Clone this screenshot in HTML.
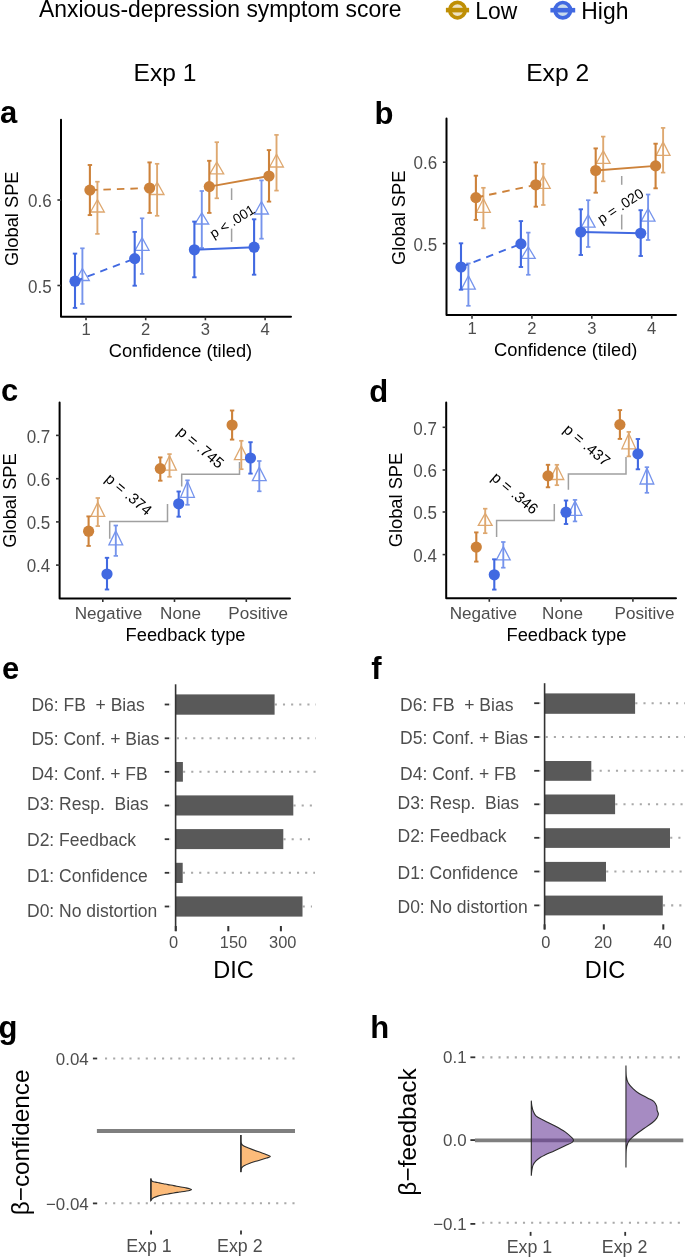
<!DOCTYPE html>
<html><head><meta charset="utf-8"><style>
html,body{margin:0;padding:0;background:#fff;overflow:hidden;width:685px;height:1258px;}
svg{display:block;font-family:"Liberation Sans", sans-serif;will-change:transform;}
</style></head><body>
<svg width="685" height="1258" viewBox="0 0 685 1258">
<rect width="685" height="1258" fill="#fff"/>
<text font-size="22.9" fill="#000" text-anchor="start" font-weight="normal" transform="translate(39.00 17.10) scale(1 1.05)">Anxious-depression symptom score</text>
<circle cx="457.5" cy="10.1" r="7.7" fill="rgb(238,226,194)" stroke="rgb(191,143,5)" stroke-width="3.7"/>
<line x1="445.90" y1="10.10" x2="469.10" y2="10.10" stroke="rgb(191,143,5)" stroke-width="4.6"/>
<text font-size="22.9" fill="#000" text-anchor="start" font-weight="normal" transform="translate(475.30 19.00) scale(1 1.05)">Low</text>
<circle cx="562.8" cy="10.2" r="7.7" fill="rgb(200,218,236)" stroke="rgb(65,105,225)" stroke-width="3.7"/>
<line x1="550.40" y1="10.20" x2="575.20" y2="10.20" stroke="rgb(65,105,225)" stroke-width="4.6"/>
<text font-size="22.9" fill="#000" text-anchor="start" font-weight="normal" transform="translate(581.30 19.00) scale(1 1.05)">High</text>
<text x="133.60" y="80.70" font-size="24.6" fill="#000" text-anchor="start" font-weight="normal">Exp 1</text>
<text x="526.20" y="80.70" font-size="24.6" fill="#000" text-anchor="start" font-weight="normal">Exp 2</text>
<text x="0.10" y="122.80" font-size="31" fill="#000" text-anchor="start" font-weight="bold">a</text>
<polyline points="61.0,119.8 61.0,316.7 291,316.7" fill="none" stroke="#000" stroke-width="2.0" stroke-linecap="round" stroke-linejoin="round"/>
<line x1="86.00" y1="316.70" x2="86.00" y2="320.30" stroke="#333" stroke-width="1.6"/>
<line x1="145.70" y1="316.70" x2="145.70" y2="320.30" stroke="#333" stroke-width="1.6"/>
<line x1="205.40" y1="316.70" x2="205.40" y2="320.30" stroke="#333" stroke-width="1.6"/>
<line x1="265.10" y1="316.70" x2="265.10" y2="320.30" stroke="#333" stroke-width="1.6"/>
<line x1="57.40" y1="285.50" x2="61.00" y2="285.50" stroke="#333" stroke-width="1.6"/>
<text font-size="17.0" fill="#4d4d4d" text-anchor="end" font-weight="normal" transform="translate(51.70 292.70) scale(1 1.05)">0.5</text>
<line x1="57.40" y1="200.00" x2="61.00" y2="200.00" stroke="#333" stroke-width="1.6"/>
<text font-size="17.0" fill="#4d4d4d" text-anchor="end" font-weight="normal" transform="translate(51.70 207.20) scale(1 1.05)">0.6</text>
<text x="86.00" y="335.30" font-size="16.6" fill="#4d4d4d" text-anchor="middle" font-weight="normal">1</text>
<text x="145.70" y="335.30" font-size="16.6" fill="#4d4d4d" text-anchor="middle" font-weight="normal">2</text>
<text x="205.40" y="335.30" font-size="16.6" fill="#4d4d4d" text-anchor="middle" font-weight="normal">3</text>
<text x="265.10" y="335.30" font-size="16.6" fill="#4d4d4d" text-anchor="middle" font-weight="normal">4</text>
<text x="180.50" y="357.20" font-size="18.3" fill="#000" text-anchor="middle" font-weight="normal">Confidence (tiled)</text>
<text font-size="18.3" fill="#000" text-anchor="middle" font-weight="normal" transform="translate(18.40 218.70) rotate(-90)">Global SPE</text>
<line x1="82.40" y1="248.30" x2="82.40" y2="303.90" stroke="rgb(118,148,236)" stroke-width="1.9"/>
<line x1="80.20" y1="248.30" x2="84.60" y2="248.30" stroke="rgb(118,148,236)" stroke-width="1.71"/>
<line x1="80.20" y1="303.90" x2="84.60" y2="303.90" stroke="rgb(118,148,236)" stroke-width="1.71"/>
<polygon points="82.40,268.50 75.50,280.50 89.30,280.50" fill="none" stroke="rgb(118,148,236)" stroke-width="1.3" stroke-linejoin="miter"/>
<line x1="142.10" y1="218.30" x2="142.10" y2="273.90" stroke="rgb(118,148,236)" stroke-width="1.9"/>
<line x1="139.90" y1="218.30" x2="144.30" y2="218.30" stroke="rgb(118,148,236)" stroke-width="1.71"/>
<line x1="139.90" y1="273.90" x2="144.30" y2="273.90" stroke="rgb(118,148,236)" stroke-width="1.71"/>
<polygon points="142.10,237.60 135.20,250.30 149.00,250.30" fill="none" stroke="rgb(118,148,236)" stroke-width="1.3" stroke-linejoin="miter"/>
<line x1="201.80" y1="191.00" x2="201.80" y2="248.00" stroke="rgb(118,148,236)" stroke-width="1.9"/>
<line x1="199.60" y1="191.00" x2="204.00" y2="191.00" stroke="rgb(118,148,236)" stroke-width="1.71"/>
<line x1="199.60" y1="248.00" x2="204.00" y2="248.00" stroke="rgb(118,148,236)" stroke-width="1.71"/>
<polygon points="201.80,212.80 194.90,224.00 208.70,224.00" fill="none" stroke="rgb(118,148,236)" stroke-width="1.3" stroke-linejoin="miter"/>
<line x1="261.50" y1="180.40" x2="261.50" y2="238.70" stroke="rgb(118,148,236)" stroke-width="1.9"/>
<line x1="259.30" y1="180.40" x2="263.70" y2="180.40" stroke="rgb(118,148,236)" stroke-width="1.71"/>
<line x1="259.30" y1="238.70" x2="263.70" y2="238.70" stroke="rgb(118,148,236)" stroke-width="1.71"/>
<polygon points="261.50,201.50 254.60,214.00 268.40,214.00" fill="none" stroke="rgb(118,148,236)" stroke-width="1.3" stroke-linejoin="miter"/>
<line x1="75.00" y1="253.60" x2="75.00" y2="307.90" stroke="rgb(65,105,225)" stroke-width="2.1"/>
<line x1="72.80" y1="253.60" x2="77.20" y2="253.60" stroke="rgb(65,105,225)" stroke-width="1.8900000000000001"/>
<line x1="72.80" y1="307.90" x2="77.20" y2="307.90" stroke="rgb(65,105,225)" stroke-width="1.8900000000000001"/>
<line x1="134.70" y1="231.90" x2="134.70" y2="285.70" stroke="rgb(65,105,225)" stroke-width="2.1"/>
<line x1="132.50" y1="231.90" x2="136.90" y2="231.90" stroke="rgb(65,105,225)" stroke-width="1.8900000000000001"/>
<line x1="132.50" y1="285.70" x2="136.90" y2="285.70" stroke="rgb(65,105,225)" stroke-width="1.8900000000000001"/>
<line x1="194.40" y1="221.60" x2="194.40" y2="277.30" stroke="rgb(65,105,225)" stroke-width="2.1"/>
<line x1="192.20" y1="221.60" x2="196.60" y2="221.60" stroke="rgb(65,105,225)" stroke-width="1.8900000000000001"/>
<line x1="192.20" y1="277.30" x2="196.60" y2="277.30" stroke="rgb(65,105,225)" stroke-width="1.8900000000000001"/>
<line x1="254.10" y1="219.30" x2="254.10" y2="274.70" stroke="rgb(65,105,225)" stroke-width="2.1"/>
<line x1="251.90" y1="219.30" x2="256.30" y2="219.30" stroke="rgb(65,105,225)" stroke-width="1.8900000000000001"/>
<line x1="251.90" y1="274.70" x2="256.30" y2="274.70" stroke="rgb(65,105,225)" stroke-width="1.8900000000000001"/>
<line x1="75.00" y1="281.20" x2="134.70" y2="258.60" stroke="rgb(65,105,225)" stroke-width="1.9" stroke-dasharray="7.5,6"/>
<line x1="194.40" y1="249.80" x2="254.10" y2="247.20" stroke="rgb(65,105,225)" stroke-width="1.9"/>
<circle cx="75.00" cy="281.20" r="5.6" fill="rgb(65,105,225)"/>
<circle cx="134.70" cy="258.60" r="5.6" fill="rgb(65,105,225)"/>
<circle cx="194.40" cy="249.80" r="5.6" fill="rgb(65,105,225)"/>
<circle cx="254.10" cy="247.20" r="5.6" fill="rgb(65,105,225)"/>
<line x1="97.40" y1="181.70" x2="97.40" y2="233.90" stroke="rgb(222,168,112)" stroke-width="1.9"/>
<line x1="95.20" y1="181.70" x2="99.60" y2="181.70" stroke="rgb(222,168,112)" stroke-width="1.71"/>
<line x1="95.20" y1="233.90" x2="99.60" y2="233.90" stroke="rgb(222,168,112)" stroke-width="1.71"/>
<polygon points="97.40,199.70 90.50,212.00 104.30,212.00" fill="none" stroke="rgb(222,168,112)" stroke-width="1.3" stroke-linejoin="miter"/>
<line x1="157.10" y1="163.80" x2="157.10" y2="215.80" stroke="rgb(222,168,112)" stroke-width="1.9"/>
<line x1="154.90" y1="163.80" x2="159.30" y2="163.80" stroke="rgb(222,168,112)" stroke-width="1.71"/>
<line x1="154.90" y1="215.80" x2="159.30" y2="215.80" stroke="rgb(222,168,112)" stroke-width="1.71"/>
<polygon points="157.10,182.20 150.20,194.50 164.00,194.50" fill="none" stroke="rgb(222,168,112)" stroke-width="1.3" stroke-linejoin="miter"/>
<line x1="216.80" y1="142.20" x2="216.80" y2="198.30" stroke="rgb(222,168,112)" stroke-width="1.9"/>
<line x1="214.60" y1="142.20" x2="219.00" y2="142.20" stroke="rgb(222,168,112)" stroke-width="1.71"/>
<line x1="214.60" y1="198.30" x2="219.00" y2="198.30" stroke="rgb(222,168,112)" stroke-width="1.71"/>
<polygon points="216.80,162.00 209.90,173.80 223.70,173.80" fill="none" stroke="rgb(222,168,112)" stroke-width="1.3" stroke-linejoin="miter"/>
<line x1="276.50" y1="134.90" x2="276.50" y2="190.60" stroke="rgb(222,168,112)" stroke-width="1.9"/>
<line x1="274.30" y1="134.90" x2="278.70" y2="134.90" stroke="rgb(222,168,112)" stroke-width="1.71"/>
<line x1="274.30" y1="190.60" x2="278.70" y2="190.60" stroke="rgb(222,168,112)" stroke-width="1.71"/>
<polygon points="276.50,154.20 269.60,167.00 283.40,167.00" fill="none" stroke="rgb(222,168,112)" stroke-width="1.3" stroke-linejoin="miter"/>
<line x1="89.90" y1="165.00" x2="89.90" y2="215.10" stroke="rgb(205,130,58)" stroke-width="2.1"/>
<line x1="87.70" y1="165.00" x2="92.10" y2="165.00" stroke="rgb(205,130,58)" stroke-width="1.8900000000000001"/>
<line x1="87.70" y1="215.10" x2="92.10" y2="215.10" stroke="rgb(205,130,58)" stroke-width="1.8900000000000001"/>
<line x1="149.60" y1="162.40" x2="149.60" y2="212.90" stroke="rgb(205,130,58)" stroke-width="2.1"/>
<line x1="147.40" y1="162.40" x2="151.80" y2="162.40" stroke="rgb(205,130,58)" stroke-width="1.8900000000000001"/>
<line x1="147.40" y1="212.90" x2="151.80" y2="212.90" stroke="rgb(205,130,58)" stroke-width="1.8900000000000001"/>
<line x1="209.30" y1="160.80" x2="209.30" y2="212.90" stroke="rgb(205,130,58)" stroke-width="2.1"/>
<line x1="207.10" y1="160.80" x2="211.50" y2="160.80" stroke="rgb(205,130,58)" stroke-width="1.8900000000000001"/>
<line x1="207.10" y1="212.90" x2="211.50" y2="212.90" stroke="rgb(205,130,58)" stroke-width="1.8900000000000001"/>
<line x1="269.00" y1="150.10" x2="269.00" y2="201.60" stroke="rgb(205,130,58)" stroke-width="2.1"/>
<line x1="266.80" y1="150.10" x2="271.20" y2="150.10" stroke="rgb(205,130,58)" stroke-width="1.8900000000000001"/>
<line x1="266.80" y1="201.60" x2="271.20" y2="201.60" stroke="rgb(205,130,58)" stroke-width="1.8900000000000001"/>
<line x1="89.90" y1="190.10" x2="149.60" y2="188.00" stroke="rgb(205,130,58)" stroke-width="1.9" stroke-dasharray="7.5,6"/>
<line x1="209.30" y1="186.60" x2="269.00" y2="176.00" stroke="rgb(205,130,58)" stroke-width="1.9"/>
<circle cx="89.90" cy="190.10" r="5.6" fill="rgb(205,130,58)"/>
<circle cx="149.60" cy="188.00" r="5.6" fill="rgb(205,130,58)"/>
<circle cx="209.30" cy="186.60" r="5.6" fill="rgb(205,130,58)"/>
<circle cx="269.00" cy="176.00" r="5.6" fill="rgb(205,130,58)"/>
<line x1="231.60" y1="188.30" x2="231.60" y2="200.00" stroke="#a0a0a0" stroke-width="1.5"/>
<line x1="231.60" y1="228.60" x2="231.60" y2="241.90" stroke="#a0a0a0" stroke-width="1.5"/>
<text font-size="13.8" fill="#000" text-anchor="middle" font-weight="normal" transform="translate(234.80 225.50) rotate(-32)">p &lt; .001</text>
<text x="374.50" y="123.60" font-size="31" fill="#000" text-anchor="start" font-weight="bold">b</text>
<polyline points="446.5,118.4 446.5,315.1 676,315.1" fill="none" stroke="#000" stroke-width="2.0" stroke-linecap="round" stroke-linejoin="round"/>
<line x1="472.00" y1="315.10" x2="472.00" y2="318.70" stroke="#333" stroke-width="1.6"/>
<line x1="531.90" y1="315.10" x2="531.90" y2="318.70" stroke="#333" stroke-width="1.6"/>
<line x1="591.80" y1="315.10" x2="591.80" y2="318.70" stroke="#333" stroke-width="1.6"/>
<line x1="651.70" y1="315.10" x2="651.70" y2="318.70" stroke="#333" stroke-width="1.6"/>
<line x1="442.90" y1="243.60" x2="446.50" y2="243.60" stroke="#333" stroke-width="1.6"/>
<text font-size="17.0" fill="#4d4d4d" text-anchor="end" font-weight="normal" transform="translate(437.20 250.80) scale(1 1.05)">0.5</text>
<line x1="442.90" y1="162.20" x2="446.50" y2="162.20" stroke="#333" stroke-width="1.6"/>
<text font-size="17.0" fill="#4d4d4d" text-anchor="end" font-weight="normal" transform="translate(437.20 169.40) scale(1 1.05)">0.6</text>
<text x="472.00" y="333.70" font-size="16.6" fill="#4d4d4d" text-anchor="middle" font-weight="normal">1</text>
<text x="531.90" y="333.70" font-size="16.6" fill="#4d4d4d" text-anchor="middle" font-weight="normal">2</text>
<text x="591.80" y="333.70" font-size="16.6" fill="#4d4d4d" text-anchor="middle" font-weight="normal">3</text>
<text x="651.70" y="333.70" font-size="16.6" fill="#4d4d4d" text-anchor="middle" font-weight="normal">4</text>
<text x="565.75" y="355.60" font-size="18.3" fill="#000" text-anchor="middle" font-weight="normal">Confidence (tiled)</text>
<text font-size="18.3" fill="#000" text-anchor="middle" font-weight="normal" transform="translate(404.50 217.80) rotate(-90)">Global SPE</text>
<line x1="468.40" y1="263.40" x2="468.40" y2="305.80" stroke="rgb(118,148,236)" stroke-width="1.9"/>
<line x1="466.20" y1="263.40" x2="470.60" y2="263.40" stroke="rgb(118,148,236)" stroke-width="1.71"/>
<line x1="466.20" y1="305.80" x2="470.60" y2="305.80" stroke="rgb(118,148,236)" stroke-width="1.71"/>
<polygon points="468.40,275.70 461.50,289.20 475.30,289.20" fill="none" stroke="rgb(118,148,236)" stroke-width="1.3" stroke-linejoin="miter"/>
<line x1="528.30" y1="232.60" x2="528.30" y2="274.80" stroke="rgb(118,148,236)" stroke-width="1.9"/>
<line x1="526.10" y1="232.60" x2="530.50" y2="232.60" stroke="rgb(118,148,236)" stroke-width="1.71"/>
<line x1="526.10" y1="274.80" x2="530.50" y2="274.80" stroke="rgb(118,148,236)" stroke-width="1.71"/>
<polygon points="528.30,246.90 521.40,258.30 535.20,258.30" fill="none" stroke="rgb(118,148,236)" stroke-width="1.3" stroke-linejoin="miter"/>
<line x1="588.20" y1="200.20" x2="588.20" y2="247.00" stroke="rgb(118,148,236)" stroke-width="1.9"/>
<line x1="586.00" y1="200.20" x2="590.40" y2="200.20" stroke="rgb(118,148,236)" stroke-width="1.71"/>
<line x1="586.00" y1="247.00" x2="590.40" y2="247.00" stroke="rgb(118,148,236)" stroke-width="1.71"/>
<polygon points="588.20,214.60 581.30,227.20 595.10,227.20" fill="none" stroke="rgb(118,148,236)" stroke-width="1.3" stroke-linejoin="miter"/>
<line x1="648.10" y1="194.50" x2="648.10" y2="240.00" stroke="rgb(118,148,236)" stroke-width="1.9"/>
<line x1="645.90" y1="194.50" x2="650.30" y2="194.50" stroke="rgb(118,148,236)" stroke-width="1.71"/>
<line x1="645.90" y1="240.00" x2="650.30" y2="240.00" stroke="rgb(118,148,236)" stroke-width="1.71"/>
<polygon points="648.10,208.50 641.20,221.10 655.00,221.10" fill="none" stroke="rgb(118,148,236)" stroke-width="1.3" stroke-linejoin="miter"/>
<line x1="461.00" y1="243.30" x2="461.00" y2="289.70" stroke="rgb(65,105,225)" stroke-width="2.1"/>
<line x1="458.80" y1="243.30" x2="463.20" y2="243.30" stroke="rgb(65,105,225)" stroke-width="1.8900000000000001"/>
<line x1="458.80" y1="289.70" x2="463.20" y2="289.70" stroke="rgb(65,105,225)" stroke-width="1.8900000000000001"/>
<line x1="520.90" y1="221.10" x2="520.90" y2="267.00" stroke="rgb(65,105,225)" stroke-width="2.1"/>
<line x1="518.70" y1="221.10" x2="523.10" y2="221.10" stroke="rgb(65,105,225)" stroke-width="1.8900000000000001"/>
<line x1="518.70" y1="267.00" x2="523.10" y2="267.00" stroke="rgb(65,105,225)" stroke-width="1.8900000000000001"/>
<line x1="580.80" y1="209.30" x2="580.80" y2="255.00" stroke="rgb(65,105,225)" stroke-width="2.1"/>
<line x1="578.60" y1="209.30" x2="583.00" y2="209.30" stroke="rgb(65,105,225)" stroke-width="1.8900000000000001"/>
<line x1="578.60" y1="255.00" x2="583.00" y2="255.00" stroke="rgb(65,105,225)" stroke-width="1.8900000000000001"/>
<line x1="640.70" y1="210.20" x2="640.70" y2="256.00" stroke="rgb(65,105,225)" stroke-width="2.1"/>
<line x1="638.50" y1="210.20" x2="642.90" y2="210.20" stroke="rgb(65,105,225)" stroke-width="1.8900000000000001"/>
<line x1="638.50" y1="256.00" x2="642.90" y2="256.00" stroke="rgb(65,105,225)" stroke-width="1.8900000000000001"/>
<line x1="461.00" y1="267.00" x2="520.90" y2="243.90" stroke="rgb(65,105,225)" stroke-width="1.9" stroke-dasharray="7.5,6"/>
<line x1="580.80" y1="232.00" x2="640.70" y2="233.30" stroke="rgb(65,105,225)" stroke-width="1.9"/>
<circle cx="461.00" cy="267.00" r="5.6" fill="rgb(65,105,225)"/>
<circle cx="520.90" cy="243.90" r="5.6" fill="rgb(65,105,225)"/>
<circle cx="580.80" cy="232.00" r="5.6" fill="rgb(65,105,225)"/>
<circle cx="640.70" cy="233.30" r="5.6" fill="rgb(65,105,225)"/>
<line x1="483.40" y1="187.80" x2="483.40" y2="228.30" stroke="rgb(222,168,112)" stroke-width="1.9"/>
<line x1="481.20" y1="187.80" x2="485.60" y2="187.80" stroke="rgb(222,168,112)" stroke-width="1.71"/>
<line x1="481.20" y1="228.30" x2="485.60" y2="228.30" stroke="rgb(222,168,112)" stroke-width="1.71"/>
<polygon points="483.40,198.80 476.50,212.30 490.30,212.30" fill="none" stroke="rgb(222,168,112)" stroke-width="1.3" stroke-linejoin="miter"/>
<line x1="543.30" y1="163.80" x2="543.30" y2="205.00" stroke="rgb(222,168,112)" stroke-width="1.9"/>
<line x1="541.10" y1="163.80" x2="545.50" y2="163.80" stroke="rgb(222,168,112)" stroke-width="1.71"/>
<line x1="541.10" y1="205.00" x2="545.50" y2="205.00" stroke="rgb(222,168,112)" stroke-width="1.71"/>
<polygon points="543.30,175.70 536.40,188.30 550.20,188.30" fill="none" stroke="rgb(222,168,112)" stroke-width="1.3" stroke-linejoin="miter"/>
<line x1="603.20" y1="136.60" x2="603.20" y2="181.30" stroke="rgb(222,168,112)" stroke-width="1.9"/>
<line x1="601.00" y1="136.60" x2="605.40" y2="136.60" stroke="rgb(222,168,112)" stroke-width="1.71"/>
<line x1="601.00" y1="181.30" x2="605.40" y2="181.30" stroke="rgb(222,168,112)" stroke-width="1.71"/>
<polygon points="603.20,150.70 596.30,163.40 610.10,163.40" fill="none" stroke="rgb(222,168,112)" stroke-width="1.3" stroke-linejoin="miter"/>
<line x1="663.10" y1="127.90" x2="663.10" y2="172.60" stroke="rgb(222,168,112)" stroke-width="1.9"/>
<line x1="660.90" y1="127.90" x2="665.30" y2="127.90" stroke="rgb(222,168,112)" stroke-width="1.71"/>
<line x1="660.90" y1="172.60" x2="665.30" y2="172.60" stroke="rgb(222,168,112)" stroke-width="1.71"/>
<polygon points="663.10,141.90 656.20,155.40 670.00,155.40" fill="none" stroke="rgb(222,168,112)" stroke-width="1.3" stroke-linejoin="miter"/>
<line x1="475.90" y1="175.70" x2="475.90" y2="219.90" stroke="rgb(205,130,58)" stroke-width="2.1"/>
<line x1="473.70" y1="175.70" x2="478.10" y2="175.70" stroke="rgb(205,130,58)" stroke-width="1.8900000000000001"/>
<line x1="473.70" y1="219.90" x2="478.10" y2="219.90" stroke="rgb(205,130,58)" stroke-width="1.8900000000000001"/>
<line x1="535.80" y1="162.40" x2="535.80" y2="206.70" stroke="rgb(205,130,58)" stroke-width="2.1"/>
<line x1="533.60" y1="162.40" x2="538.00" y2="162.40" stroke="rgb(205,130,58)" stroke-width="1.8900000000000001"/>
<line x1="533.60" y1="206.70" x2="538.00" y2="206.70" stroke="rgb(205,130,58)" stroke-width="1.8900000000000001"/>
<line x1="595.70" y1="148.40" x2="595.70" y2="192.70" stroke="rgb(205,130,58)" stroke-width="2.1"/>
<line x1="593.50" y1="148.40" x2="597.90" y2="148.40" stroke="rgb(205,130,58)" stroke-width="1.8900000000000001"/>
<line x1="593.50" y1="192.70" x2="597.90" y2="192.70" stroke="rgb(205,130,58)" stroke-width="1.8900000000000001"/>
<line x1="655.60" y1="143.70" x2="655.60" y2="188.30" stroke="rgb(205,130,58)" stroke-width="2.1"/>
<line x1="653.40" y1="143.70" x2="657.80" y2="143.70" stroke="rgb(205,130,58)" stroke-width="1.8900000000000001"/>
<line x1="653.40" y1="188.30" x2="657.80" y2="188.30" stroke="rgb(205,130,58)" stroke-width="1.8900000000000001"/>
<line x1="475.90" y1="197.60" x2="535.80" y2="184.80" stroke="rgb(205,130,58)" stroke-width="1.9" stroke-dasharray="7.5,6"/>
<line x1="595.70" y1="170.50" x2="655.60" y2="165.90" stroke="rgb(205,130,58)" stroke-width="1.9"/>
<circle cx="475.90" cy="197.60" r="5.6" fill="rgb(205,130,58)"/>
<circle cx="535.80" cy="184.80" r="5.6" fill="rgb(205,130,58)"/>
<circle cx="595.70" cy="170.50" r="5.6" fill="rgb(205,130,58)"/>
<circle cx="655.60" cy="165.90" r="5.6" fill="rgb(205,130,58)"/>
<line x1="621.70" y1="176.00" x2="621.70" y2="184.80" stroke="#a0a0a0" stroke-width="1.5"/>
<line x1="621.70" y1="214.60" x2="621.70" y2="229.50" stroke="#a0a0a0" stroke-width="1.5"/>
<text font-size="14.2" fill="#000" text-anchor="middle" font-weight="normal" transform="translate(623.20 210.00) rotate(-33.4)">p = .020</text>
<text x="0.90" y="400.60" font-size="31" fill="#000" text-anchor="start" font-weight="bold">c</text>
<polyline points="59.6,402.4 59.6,598.4 290,598.4" fill="none" stroke="#000" stroke-width="2.0" stroke-linecap="round" stroke-linejoin="round"/>
<line x1="102.80" y1="598.40" x2="102.80" y2="602.00" stroke="#333" stroke-width="1.6"/>
<line x1="174.50" y1="598.40" x2="174.50" y2="602.00" stroke="#333" stroke-width="1.6"/>
<line x1="246.30" y1="598.40" x2="246.30" y2="602.00" stroke="#333" stroke-width="1.6"/>
<line x1="56.00" y1="565.10" x2="59.60" y2="565.10" stroke="#333" stroke-width="1.6"/>
<text font-size="17.0" fill="#4d4d4d" text-anchor="end" font-weight="normal" transform="translate(50.30 572.30) scale(1 1.05)">0.4</text>
<line x1="56.00" y1="521.90" x2="59.60" y2="521.90" stroke="#333" stroke-width="1.6"/>
<text font-size="17.0" fill="#4d4d4d" text-anchor="end" font-weight="normal" transform="translate(50.30 529.10) scale(1 1.05)">0.5</text>
<line x1="56.00" y1="478.70" x2="59.60" y2="478.70" stroke="#333" stroke-width="1.6"/>
<text font-size="17.0" fill="#4d4d4d" text-anchor="end" font-weight="normal" transform="translate(50.30 485.90) scale(1 1.05)">0.6</text>
<line x1="56.00" y1="435.40" x2="59.60" y2="435.40" stroke="#333" stroke-width="1.6"/>
<text font-size="17.0" fill="#4d4d4d" text-anchor="end" font-weight="normal" transform="translate(50.30 442.60) scale(1 1.05)">0.7</text>
<text x="108.50" y="619.20" font-size="17.1" fill="#4d4d4d" text-anchor="middle" font-weight="normal">Negative</text>
<text x="180.50" y="619.20" font-size="17.1" fill="#4d4d4d" text-anchor="middle" font-weight="normal">None</text>
<text x="258.20" y="619.20" font-size="17.1" fill="#4d4d4d" text-anchor="middle" font-weight="normal">Positive</text>
<text x="125.60" y="641.40" font-size="18.3" fill="#000" text-anchor="start" font-weight="normal">Feedback type</text>
<text font-size="18.3" fill="#000" text-anchor="middle" font-weight="normal" transform="translate(16.40 500.50) rotate(-90)">Global SPE</text>
<polyline points="109.7,538.8 109.7,521.6 167.5,521.6 167.5,504.0" fill="none" stroke="#a0a0a0" stroke-width="1.5"/>
<polyline points="181.7,486.4 181.7,474.2 239.5,474.2 239.5,461.9" fill="none" stroke="#a0a0a0" stroke-width="1.5"/>
<text font-size="15.2" fill="#000" text-anchor="middle" font-weight="normal" transform="translate(125.40 498.20) rotate(40.5)">p = .374</text>
<text font-size="15.2" fill="#000" text-anchor="middle" font-weight="normal" transform="translate(197.40 451.20) rotate(40.5)">p = .745</text>
<line x1="97.80" y1="498.00" x2="97.80" y2="526.10" stroke="rgb(222,168,112)" stroke-width="1.9"/>
<line x1="95.60" y1="498.00" x2="100.00" y2="498.00" stroke="rgb(222,168,112)" stroke-width="1.71"/>
<line x1="95.60" y1="526.10" x2="100.00" y2="526.10" stroke="rgb(222,168,112)" stroke-width="1.71"/>
<polygon points="97.80,502.40 90.90,516.40 104.70,516.40" fill="none" stroke="rgb(222,168,112)" stroke-width="1.3" stroke-linejoin="miter"/>
<line x1="169.50" y1="454.10" x2="169.50" y2="476.80" stroke="rgb(222,168,112)" stroke-width="1.9"/>
<line x1="167.30" y1="454.10" x2="171.70" y2="454.10" stroke="rgb(222,168,112)" stroke-width="1.71"/>
<line x1="167.30" y1="476.80" x2="171.70" y2="476.80" stroke="rgb(222,168,112)" stroke-width="1.71"/>
<polygon points="169.50,455.80 162.60,470.10 176.40,470.10" fill="none" stroke="rgb(222,168,112)" stroke-width="1.3" stroke-linejoin="miter"/>
<line x1="241.30" y1="440.80" x2="241.30" y2="469.20" stroke="rgb(222,168,112)" stroke-width="1.9"/>
<line x1="239.10" y1="440.80" x2="243.50" y2="440.80" stroke="rgb(222,168,112)" stroke-width="1.71"/>
<line x1="239.10" y1="469.20" x2="243.50" y2="469.20" stroke="rgb(222,168,112)" stroke-width="1.71"/>
<polygon points="241.30,446.00 234.40,459.60 248.20,459.60" fill="none" stroke="rgb(222,168,112)" stroke-width="1.3" stroke-linejoin="miter"/>
<line x1="88.60" y1="516.40" x2="88.60" y2="545.90" stroke="rgb(205,130,58)" stroke-width="2.1"/>
<line x1="86.40" y1="516.40" x2="90.80" y2="516.40" stroke="rgb(205,130,58)" stroke-width="1.8900000000000001"/>
<line x1="86.40" y1="545.90" x2="90.80" y2="545.90" stroke="rgb(205,130,58)" stroke-width="1.8900000000000001"/>
<circle cx="88.60" cy="531.20" r="5.6" fill="rgb(205,130,58)"/>
<line x1="160.30" y1="457.40" x2="160.30" y2="480.70" stroke="rgb(205,130,58)" stroke-width="2.1"/>
<line x1="158.10" y1="457.40" x2="162.50" y2="457.40" stroke="rgb(205,130,58)" stroke-width="1.8900000000000001"/>
<line x1="158.10" y1="480.70" x2="162.50" y2="480.70" stroke="rgb(205,130,58)" stroke-width="1.8900000000000001"/>
<circle cx="160.30" cy="468.60" r="5.6" fill="rgb(205,130,58)"/>
<line x1="232.10" y1="410.50" x2="232.10" y2="439.60" stroke="rgb(205,130,58)" stroke-width="2.1"/>
<line x1="229.90" y1="410.50" x2="234.30" y2="410.50" stroke="rgb(205,130,58)" stroke-width="1.8900000000000001"/>
<line x1="229.90" y1="439.60" x2="234.30" y2="439.60" stroke="rgb(205,130,58)" stroke-width="1.8900000000000001"/>
<circle cx="232.10" cy="425.00" r="5.6" fill="rgb(205,130,58)"/>
<line x1="115.80" y1="525.50" x2="115.80" y2="555.90" stroke="rgb(118,148,236)" stroke-width="1.9"/>
<line x1="113.60" y1="525.50" x2="118.00" y2="525.50" stroke="rgb(118,148,236)" stroke-width="1.71"/>
<line x1="113.60" y1="555.90" x2="118.00" y2="555.90" stroke="rgb(118,148,236)" stroke-width="1.71"/>
<polygon points="115.80,530.90 108.90,544.90 122.70,544.90" fill="none" stroke="rgb(118,148,236)" stroke-width="1.3" stroke-linejoin="miter"/>
<line x1="187.50" y1="480.30" x2="187.50" y2="504.80" stroke="rgb(118,148,236)" stroke-width="1.9"/>
<line x1="185.30" y1="480.30" x2="189.70" y2="480.30" stroke="rgb(118,148,236)" stroke-width="1.71"/>
<line x1="185.30" y1="504.80" x2="189.70" y2="504.80" stroke="rgb(118,148,236)" stroke-width="1.71"/>
<polygon points="187.50,481.30 180.60,497.30 194.40,497.30" fill="none" stroke="rgb(118,148,236)" stroke-width="1.3" stroke-linejoin="miter"/>
<line x1="259.30" y1="461.00" x2="259.30" y2="491.30" stroke="rgb(118,148,236)" stroke-width="1.9"/>
<line x1="257.10" y1="461.00" x2="261.50" y2="461.00" stroke="rgb(118,148,236)" stroke-width="1.71"/>
<line x1="257.10" y1="491.30" x2="261.50" y2="491.30" stroke="rgb(118,148,236)" stroke-width="1.71"/>
<polygon points="259.30,467.10 252.40,480.70 266.20,480.70" fill="none" stroke="rgb(118,148,236)" stroke-width="1.3" stroke-linejoin="miter"/>
<line x1="107.00" y1="557.80" x2="107.00" y2="589.50" stroke="rgb(65,105,225)" stroke-width="2.1"/>
<line x1="104.80" y1="557.80" x2="109.20" y2="557.80" stroke="rgb(65,105,225)" stroke-width="1.8900000000000001"/>
<line x1="104.80" y1="589.50" x2="109.20" y2="589.50" stroke="rgb(65,105,225)" stroke-width="1.8900000000000001"/>
<circle cx="107.00" cy="574.00" r="5.6" fill="rgb(65,105,225)"/>
<line x1="178.70" y1="491.50" x2="178.70" y2="516.70" stroke="rgb(65,105,225)" stroke-width="2.1"/>
<line x1="176.50" y1="491.50" x2="180.90" y2="491.50" stroke="rgb(65,105,225)" stroke-width="1.8900000000000001"/>
<line x1="176.50" y1="516.70" x2="180.90" y2="516.70" stroke="rgb(65,105,225)" stroke-width="1.8900000000000001"/>
<circle cx="178.70" cy="503.80" r="5.6" fill="rgb(65,105,225)"/>
<line x1="250.50" y1="442.20" x2="250.50" y2="473.60" stroke="rgb(65,105,225)" stroke-width="2.1"/>
<line x1="248.30" y1="442.20" x2="252.70" y2="442.20" stroke="rgb(65,105,225)" stroke-width="1.8900000000000001"/>
<line x1="248.30" y1="473.60" x2="252.70" y2="473.60" stroke="rgb(65,105,225)" stroke-width="1.8900000000000001"/>
<circle cx="250.50" cy="458.00" r="5.6" fill="rgb(65,105,225)"/>
<text x="369.20" y="401.50" font-size="31" fill="#000" text-anchor="start" font-weight="bold">d</text>
<polyline points="446.2,402.4 446.2,598.2 676,598.2" fill="none" stroke="#000" stroke-width="2.0" stroke-linecap="round" stroke-linejoin="round"/>
<line x1="489.30" y1="598.20" x2="489.30" y2="601.80" stroke="#333" stroke-width="1.6"/>
<line x1="561.00" y1="598.20" x2="561.00" y2="601.80" stroke="#333" stroke-width="1.6"/>
<line x1="632.90" y1="598.20" x2="632.90" y2="601.80" stroke="#333" stroke-width="1.6"/>
<line x1="442.60" y1="554.60" x2="446.20" y2="554.60" stroke="#333" stroke-width="1.6"/>
<text font-size="17.0" fill="#4d4d4d" text-anchor="end" font-weight="normal" transform="translate(436.90 561.80) scale(1 1.05)">0.4</text>
<line x1="442.60" y1="512.00" x2="446.20" y2="512.00" stroke="#333" stroke-width="1.6"/>
<text font-size="17.0" fill="#4d4d4d" text-anchor="end" font-weight="normal" transform="translate(436.90 519.20) scale(1 1.05)">0.5</text>
<line x1="442.60" y1="470.00" x2="446.20" y2="470.00" stroke="#333" stroke-width="1.6"/>
<text font-size="17.0" fill="#4d4d4d" text-anchor="end" font-weight="normal" transform="translate(436.90 477.20) scale(1 1.05)">0.6</text>
<line x1="442.60" y1="427.30" x2="446.20" y2="427.30" stroke="#333" stroke-width="1.6"/>
<text font-size="17.0" fill="#4d4d4d" text-anchor="end" font-weight="normal" transform="translate(436.90 434.50) scale(1 1.05)">0.7</text>
<text x="483.40" y="619.00" font-size="17.1" fill="#4d4d4d" text-anchor="middle" font-weight="normal">Negative</text>
<text x="562.50" y="619.00" font-size="17.1" fill="#4d4d4d" text-anchor="middle" font-weight="normal">None</text>
<text x="644.50" y="619.00" font-size="17.1" fill="#4d4d4d" text-anchor="middle" font-weight="normal">Positive</text>
<text x="506.50" y="641.20" font-size="18.3" fill="#000" text-anchor="start" font-weight="normal">Feedback type</text>
<text font-size="18.3" fill="#000" text-anchor="middle" font-weight="normal" transform="translate(401.80 500.00) rotate(-90)">Global SPE</text>
<polyline points="496.6,537.1 496.6,520.4 554.3,520.4 554.3,504.0" fill="none" stroke="#a0a0a0" stroke-width="1.5"/>
<polyline points="568.4,489.7 568.4,474.0 626.0,474.0 626.0,457.0" fill="none" stroke="#a0a0a0" stroke-width="1.5"/>
<text font-size="15.2" fill="#000" text-anchor="middle" font-weight="normal" transform="translate(511.60 497.00) rotate(40.5)">p = .346</text>
<text font-size="15.2" fill="#000" text-anchor="middle" font-weight="normal" transform="translate(583.60 449.00) rotate(40.5)">p = .437</text>
<line x1="485.20" y1="508.70" x2="485.20" y2="533.20" stroke="rgb(222,168,112)" stroke-width="1.9"/>
<line x1="483.00" y1="508.70" x2="487.40" y2="508.70" stroke="rgb(222,168,112)" stroke-width="1.71"/>
<line x1="483.00" y1="533.20" x2="487.40" y2="533.20" stroke="rgb(222,168,112)" stroke-width="1.71"/>
<polygon points="485.20,513.40 478.30,525.30 492.10,525.30" fill="none" stroke="rgb(222,168,112)" stroke-width="1.3" stroke-linejoin="miter"/>
<line x1="556.90" y1="464.80" x2="556.90" y2="485.20" stroke="rgb(222,168,112)" stroke-width="1.9"/>
<line x1="554.70" y1="464.80" x2="559.10" y2="464.80" stroke="rgb(222,168,112)" stroke-width="1.71"/>
<line x1="554.70" y1="485.20" x2="559.10" y2="485.20" stroke="rgb(222,168,112)" stroke-width="1.71"/>
<polygon points="556.90,465.60 550.00,479.50 563.80,479.50" fill="none" stroke="rgb(222,168,112)" stroke-width="1.3" stroke-linejoin="miter"/>
<line x1="628.80" y1="431.90" x2="628.80" y2="456.40" stroke="rgb(222,168,112)" stroke-width="1.9"/>
<line x1="626.60" y1="431.90" x2="631.00" y2="431.90" stroke="rgb(222,168,112)" stroke-width="1.71"/>
<line x1="626.60" y1="456.40" x2="631.00" y2="456.40" stroke="rgb(222,168,112)" stroke-width="1.71"/>
<polygon points="628.80,433.50 621.90,448.80 635.70,448.80" fill="none" stroke="rgb(222,168,112)" stroke-width="1.3" stroke-linejoin="miter"/>
<line x1="476.30" y1="532.40" x2="476.30" y2="561.60" stroke="rgb(205,130,58)" stroke-width="2.1"/>
<line x1="474.10" y1="532.40" x2="478.50" y2="532.40" stroke="rgb(205,130,58)" stroke-width="1.8900000000000001"/>
<line x1="474.10" y1="561.60" x2="478.50" y2="561.60" stroke="rgb(205,130,58)" stroke-width="1.8900000000000001"/>
<circle cx="476.30" cy="547.10" r="5.6" fill="rgb(205,130,58)"/>
<line x1="548.00" y1="464.80" x2="548.00" y2="487.30" stroke="rgb(205,130,58)" stroke-width="2.1"/>
<line x1="545.80" y1="464.80" x2="550.20" y2="464.80" stroke="rgb(205,130,58)" stroke-width="1.8900000000000001"/>
<line x1="545.80" y1="487.30" x2="550.20" y2="487.30" stroke="rgb(205,130,58)" stroke-width="1.8900000000000001"/>
<circle cx="548.00" cy="475.90" r="5.6" fill="rgb(205,130,58)"/>
<line x1="619.90" y1="410.10" x2="619.90" y2="438.90" stroke="rgb(205,130,58)" stroke-width="2.1"/>
<line x1="617.70" y1="410.10" x2="622.10" y2="410.10" stroke="rgb(205,130,58)" stroke-width="1.8900000000000001"/>
<line x1="617.70" y1="438.90" x2="622.10" y2="438.90" stroke="rgb(205,130,58)" stroke-width="1.8900000000000001"/>
<circle cx="619.90" cy="424.60" r="5.6" fill="rgb(205,130,58)"/>
<line x1="503.30" y1="542.00" x2="503.30" y2="567.70" stroke="rgb(118,148,236)" stroke-width="1.9"/>
<line x1="501.10" y1="542.00" x2="505.50" y2="542.00" stroke="rgb(118,148,236)" stroke-width="1.71"/>
<line x1="501.10" y1="567.70" x2="505.50" y2="567.70" stroke="rgb(118,148,236)" stroke-width="1.71"/>
<polygon points="503.30,546.70 496.40,559.90 510.20,559.90" fill="none" stroke="rgb(118,148,236)" stroke-width="1.3" stroke-linejoin="miter"/>
<line x1="575.00" y1="499.90" x2="575.00" y2="521.40" stroke="rgb(118,148,236)" stroke-width="1.9"/>
<line x1="572.80" y1="499.90" x2="577.20" y2="499.90" stroke="rgb(118,148,236)" stroke-width="1.71"/>
<line x1="572.80" y1="521.40" x2="577.20" y2="521.40" stroke="rgb(118,148,236)" stroke-width="1.71"/>
<polygon points="575.00,501.00 568.10,515.30 581.90,515.30" fill="none" stroke="rgb(118,148,236)" stroke-width="1.3" stroke-linejoin="miter"/>
<line x1="646.90" y1="467.20" x2="646.90" y2="492.80" stroke="rgb(118,148,236)" stroke-width="1.9"/>
<line x1="644.70" y1="467.20" x2="649.10" y2="467.20" stroke="rgb(118,148,236)" stroke-width="1.71"/>
<line x1="644.70" y1="492.80" x2="649.10" y2="492.80" stroke="rgb(118,148,236)" stroke-width="1.71"/>
<polygon points="646.90,468.20 640.00,484.00 653.80,484.00" fill="none" stroke="rgb(118,148,236)" stroke-width="1.3" stroke-linejoin="miter"/>
<line x1="494.30" y1="559.30" x2="494.30" y2="589.60" stroke="rgb(65,105,225)" stroke-width="2.1"/>
<line x1="492.10" y1="559.30" x2="496.50" y2="559.30" stroke="rgb(65,105,225)" stroke-width="1.8900000000000001"/>
<line x1="492.10" y1="589.60" x2="496.50" y2="589.60" stroke="rgb(65,105,225)" stroke-width="1.8900000000000001"/>
<circle cx="494.30" cy="574.80" r="5.6" fill="rgb(65,105,225)"/>
<line x1="566.00" y1="500.50" x2="566.00" y2="524.00" stroke="rgb(65,105,225)" stroke-width="2.1"/>
<line x1="563.80" y1="500.50" x2="568.20" y2="500.50" stroke="rgb(65,105,225)" stroke-width="1.8900000000000001"/>
<line x1="563.80" y1="524.00" x2="568.20" y2="524.00" stroke="rgb(65,105,225)" stroke-width="1.8900000000000001"/>
<circle cx="566.00" cy="512.20" r="5.6" fill="rgb(65,105,225)"/>
<line x1="637.90" y1="439.00" x2="637.90" y2="469.30" stroke="rgb(65,105,225)" stroke-width="2.1"/>
<line x1="635.70" y1="439.00" x2="640.10" y2="439.00" stroke="rgb(65,105,225)" stroke-width="1.8900000000000001"/>
<line x1="635.70" y1="469.30" x2="640.10" y2="469.30" stroke="rgb(65,105,225)" stroke-width="1.8900000000000001"/>
<circle cx="637.90" cy="453.90" r="5.6" fill="rgb(65,105,225)"/>
<text x="1.90" y="678.90" font-size="31" fill="#000" text-anchor="start" font-weight="bold">e</text>
<line x1="274.80" y1="704.50" x2="316.00" y2="704.50" stroke="#a9a9a9" stroke-width="2.1" stroke-dasharray="2.1,6.05"/>
<line x1="176.90" y1="738.30" x2="316.00" y2="738.30" stroke="#a9a9a9" stroke-width="2.1" stroke-dasharray="2.1,6.05"/>
<line x1="183.10" y1="771.80" x2="316.00" y2="771.80" stroke="#a9a9a9" stroke-width="2.1" stroke-dasharray="2.1,6.05"/>
<line x1="293.50" y1="805.50" x2="312.00" y2="805.50" stroke="#a9a9a9" stroke-width="2.1" stroke-dasharray="2.1,6.05"/>
<line x1="283.50" y1="839.20" x2="310.00" y2="839.20" stroke="#a9a9a9" stroke-width="2.1" stroke-dasharray="2.1,6.05"/>
<line x1="182.90" y1="872.80" x2="315.00" y2="872.80" stroke="#a9a9a9" stroke-width="2.1" stroke-dasharray="2.1,6.05"/>
<line x1="302.70" y1="906.50" x2="312.00" y2="906.50" stroke="#a9a9a9" stroke-width="2.1" stroke-dasharray="2.1,6.05"/>
<rect x="175.60" y="694.40" width="99.00" height="20.30" fill="#595959"/>
<rect x="175.60" y="762.00" width="7.30" height="19.70" fill="#595959"/>
<rect x="175.60" y="795.40" width="117.70" height="20.10" fill="#595959"/>
<rect x="175.60" y="829.10" width="107.70" height="20.00" fill="#595959"/>
<rect x="175.60" y="862.80" width="7.10" height="20.20" fill="#595959"/>
<rect x="175.60" y="896.40" width="126.90" height="20.20" fill="#595959"/>
<line x1="175.60" y1="684.30" x2="175.60" y2="931.00" stroke="#333" stroke-width="1.6"/>
<line x1="168.60" y1="704.50" x2="170.40" y2="704.50" stroke="#cfcfcf" stroke-width="1.8"/>
<line x1="164.70" y1="704.50" x2="169.00" y2="704.50" stroke="#333" stroke-width="1.8"/>
<line x1="168.60" y1="738.30" x2="170.40" y2="738.30" stroke="#cfcfcf" stroke-width="1.8"/>
<line x1="164.70" y1="738.30" x2="169.00" y2="738.30" stroke="#333" stroke-width="1.8"/>
<line x1="168.60" y1="771.80" x2="170.40" y2="771.80" stroke="#cfcfcf" stroke-width="1.8"/>
<line x1="164.70" y1="771.80" x2="169.00" y2="771.80" stroke="#333" stroke-width="1.8"/>
<line x1="168.60" y1="805.50" x2="170.40" y2="805.50" stroke="#cfcfcf" stroke-width="1.8"/>
<line x1="164.70" y1="805.50" x2="169.00" y2="805.50" stroke="#333" stroke-width="1.8"/>
<line x1="168.60" y1="839.20" x2="170.40" y2="839.20" stroke="#cfcfcf" stroke-width="1.8"/>
<line x1="164.70" y1="839.20" x2="169.00" y2="839.20" stroke="#333" stroke-width="1.8"/>
<line x1="168.60" y1="872.80" x2="170.40" y2="872.80" stroke="#cfcfcf" stroke-width="1.8"/>
<line x1="164.70" y1="872.80" x2="169.00" y2="872.80" stroke="#333" stroke-width="1.8"/>
<line x1="168.60" y1="906.50" x2="170.40" y2="906.50" stroke="#cfcfcf" stroke-width="1.8"/>
<line x1="164.70" y1="906.50" x2="169.00" y2="906.50" stroke="#333" stroke-width="1.8"/>
<text x="31.40" y="711.20" font-size="17.5" fill="#4d4d4d" text-anchor="start" font-weight="normal">D6: FB&#160;&#160;+ Bias</text>
<text x="31.40" y="744.60" font-size="17.5" fill="#4d4d4d" text-anchor="start" font-weight="normal">D5: Conf. + Bias</text>
<text x="31.40" y="779.50" font-size="17.5" fill="#4d4d4d" text-anchor="start" font-weight="normal">D4: Conf. + FB</text>
<text x="27.00" y="810.20" font-size="17.5" fill="#4d4d4d" text-anchor="start" font-weight="normal">D3: Resp.&#160;&#160;Bias</text>
<text x="27.00" y="845.70" font-size="17.5" fill="#4d4d4d" text-anchor="start" font-weight="normal">D2: Feedback</text>
<text x="27.00" y="881.70" font-size="17.5" fill="#4d4d4d" text-anchor="start" font-weight="normal">D1: Confidence</text>
<text x="27.00" y="916.60" font-size="17.5" fill="#4d4d4d" text-anchor="start" font-weight="normal">D0: No distortion</text>
<line x1="175.80" y1="926.00" x2="175.80" y2="931.30" stroke="#333" stroke-width="2.0"/>
<line x1="228.30" y1="926.00" x2="228.30" y2="931.30" stroke="#333" stroke-width="2.0"/>
<line x1="280.90" y1="926.00" x2="280.90" y2="931.30" stroke="#333" stroke-width="2.0"/>
<text x="173.50" y="947.70" font-size="16.4" fill="#4d4d4d" text-anchor="middle" font-weight="normal">0</text>
<text x="233.50" y="947.70" font-size="16.4" fill="#4d4d4d" text-anchor="middle" font-weight="normal">150</text>
<text x="282.80" y="947.70" font-size="16.4" fill="#4d4d4d" text-anchor="middle" font-weight="normal">300</text>
<text x="213.30" y="978.20" font-size="23.5" fill="#000" text-anchor="start" font-weight="normal">DIC</text>
<text x="371.20" y="678.90" font-size="31" fill="#000" text-anchor="start" font-weight="bold">f</text>
<line x1="635.30" y1="703.20" x2="685.00" y2="703.20" stroke="#a9a9a9" stroke-width="2.1" stroke-dasharray="2.1,6.05"/>
<line x1="545.70" y1="737.00" x2="685.00" y2="737.00" stroke="#a9a9a9" stroke-width="2.1" stroke-dasharray="2.1,6.05"/>
<line x1="591.50" y1="770.80" x2="685.00" y2="770.80" stroke="#a9a9a9" stroke-width="2.1" stroke-dasharray="2.1,6.05"/>
<line x1="615.30" y1="804.30" x2="685.00" y2="804.30" stroke="#a9a9a9" stroke-width="2.1" stroke-dasharray="2.1,6.05"/>
<line x1="670.20" y1="837.80" x2="685.00" y2="837.80" stroke="#a9a9a9" stroke-width="2.1" stroke-dasharray="2.1,6.05"/>
<line x1="606.20" y1="871.50" x2="685.00" y2="871.50" stroke="#a9a9a9" stroke-width="2.1" stroke-dasharray="2.1,6.05"/>
<line x1="663.00" y1="905.40" x2="685.00" y2="905.40" stroke="#a9a9a9" stroke-width="2.1" stroke-dasharray="2.1,6.05"/>
<rect x="544.60" y="693.40" width="90.50" height="20.40" fill="#595959"/>
<rect x="544.60" y="761.00" width="46.70" height="19.80" fill="#595959"/>
<rect x="544.60" y="794.50" width="70.50" height="19.70" fill="#595959"/>
<rect x="544.60" y="828.20" width="125.40" height="19.70" fill="#595959"/>
<rect x="544.60" y="861.90" width="61.40" height="19.70" fill="#595959"/>
<rect x="544.60" y="895.60" width="118.20" height="19.80" fill="#595959"/>
<line x1="544.60" y1="683.20" x2="544.60" y2="929.30" stroke="#333" stroke-width="1.6"/>
<line x1="538.90" y1="703.20" x2="540.70" y2="703.20" stroke="#cfcfcf" stroke-width="1.8"/>
<line x1="534.20" y1="703.20" x2="539.30" y2="703.20" stroke="#333" stroke-width="1.8"/>
<line x1="538.90" y1="737.00" x2="540.70" y2="737.00" stroke="#cfcfcf" stroke-width="1.8"/>
<line x1="534.20" y1="737.00" x2="539.30" y2="737.00" stroke="#333" stroke-width="1.8"/>
<line x1="538.90" y1="770.80" x2="540.70" y2="770.80" stroke="#cfcfcf" stroke-width="1.8"/>
<line x1="534.20" y1="770.80" x2="539.30" y2="770.80" stroke="#333" stroke-width="1.8"/>
<line x1="538.90" y1="804.30" x2="540.70" y2="804.30" stroke="#cfcfcf" stroke-width="1.8"/>
<line x1="534.20" y1="804.30" x2="539.30" y2="804.30" stroke="#333" stroke-width="1.8"/>
<line x1="538.90" y1="837.80" x2="540.70" y2="837.80" stroke="#cfcfcf" stroke-width="1.8"/>
<line x1="534.20" y1="837.80" x2="539.30" y2="837.80" stroke="#333" stroke-width="1.8"/>
<line x1="538.90" y1="871.50" x2="540.70" y2="871.50" stroke="#cfcfcf" stroke-width="1.8"/>
<line x1="534.20" y1="871.50" x2="539.30" y2="871.50" stroke="#333" stroke-width="1.8"/>
<line x1="538.90" y1="905.40" x2="540.70" y2="905.40" stroke="#cfcfcf" stroke-width="1.8"/>
<line x1="534.20" y1="905.40" x2="539.30" y2="905.40" stroke="#333" stroke-width="1.8"/>
<text x="400.10" y="711.20" font-size="17.5" fill="#4d4d4d" text-anchor="start" font-weight="normal">D6: FB&#160;&#160;+ Bias</text>
<text x="400.10" y="744.10" font-size="17.5" fill="#4d4d4d" text-anchor="start" font-weight="normal">D5: Conf. + Bias</text>
<text x="400.10" y="779.50" font-size="17.5" fill="#4d4d4d" text-anchor="start" font-weight="normal">D4: Conf. + FB</text>
<text x="397.50" y="808.90" font-size="17.5" fill="#4d4d4d" text-anchor="start" font-weight="normal">D3: Resp.&#160;&#160;Bias</text>
<text x="397.50" y="841.70" font-size="17.5" fill="#4d4d4d" text-anchor="start" font-weight="normal">D2: Feedback</text>
<text x="397.50" y="878.50" font-size="17.5" fill="#4d4d4d" text-anchor="start" font-weight="normal">D1: Confidence</text>
<text x="397.50" y="913.20" font-size="17.5" fill="#4d4d4d" text-anchor="start" font-weight="normal">D0: No distortion</text>
<line x1="544.60" y1="924.30" x2="544.60" y2="929.60" stroke="#333" stroke-width="2.0"/>
<line x1="603.80" y1="924.30" x2="603.80" y2="929.60" stroke="#333" stroke-width="2.0"/>
<line x1="663.30" y1="924.30" x2="663.30" y2="929.60" stroke="#333" stroke-width="2.0"/>
<text x="545.70" y="947.70" font-size="16.4" fill="#4d4d4d" text-anchor="middle" font-weight="normal">0</text>
<text x="603.10" y="947.70" font-size="16.4" fill="#4d4d4d" text-anchor="middle" font-weight="normal">20</text>
<text x="662.70" y="947.70" font-size="16.4" fill="#4d4d4d" text-anchor="middle" font-weight="normal">40</text>
<text x="584.80" y="978.20" font-size="23.5" fill="#000" text-anchor="start" font-weight="normal">DIC</text>
<text x="-1.60" y="1037.60" font-size="31" fill="#000" text-anchor="start" font-weight="bold">g</text>
<text x="370.20" y="1038.00" font-size="31" fill="#000" text-anchor="start" font-weight="bold">h</text>
<line x1="105" y1="1058.5" x2="295" y2="1058.5" stroke="#a9a9a9" stroke-width="2.1" stroke-dasharray="2.1,6.05"/>
<line x1="105" y1="1203.2" x2="295" y2="1203.2" stroke="#a9a9a9" stroke-width="2.1" stroke-dasharray="2.1,6.05"/>
<line x1="92.90" y1="1058.50" x2="97.20" y2="1058.50" stroke="#333" stroke-width="1.8"/>
<line x1="92.90" y1="1203.40" x2="97.20" y2="1203.40" stroke="#333" stroke-width="1.8"/>
<text x="88.70" y="1065.20" font-size="16.9" fill="#4d4d4d" text-anchor="end" font-weight="normal">0.04</text>
<text x="88.70" y="1209.70" font-size="16.9" fill="#4d4d4d" text-anchor="end" font-weight="normal">−0.04</text>
<line x1="96.90" y1="1131.00" x2="295.00" y2="1131.00" stroke="#7f7f7f" stroke-width="3.9"/>
<line x1="151.10" y1="1230.50" x2="151.10" y2="1234.60" stroke="#333" stroke-width="1.8"/>
<line x1="241.00" y1="1230.50" x2="241.00" y2="1234.60" stroke="#333" stroke-width="1.8"/>
<text x="149.00" y="1251.60" font-size="17.8" fill="#4d4d4d" text-anchor="middle" font-weight="normal">Exp 1</text>
<text x="239.80" y="1251.60" font-size="17.8" fill="#4d4d4d" text-anchor="middle" font-weight="normal">Exp 2</text>
<text font-size="24.3" fill="#000" text-anchor="middle" font-weight="normal" transform="translate(28.90 1142.40) rotate(-90)">β−confidence</text>
<line x1="482.2" y1="1057.4" x2="685" y2="1057.4" stroke="#a9a9a9" stroke-width="2.1" stroke-dasharray="2.1,6.05"/>
<line x1="482.2" y1="1222.8" x2="685" y2="1222.8" stroke="#a9a9a9" stroke-width="2.1" stroke-dasharray="2.1,6.05"/>
<line x1="470.40" y1="1057.30" x2="475.30" y2="1057.30" stroke="#333" stroke-width="1.8"/>
<line x1="470.40" y1="1140.10" x2="475.30" y2="1140.10" stroke="#333" stroke-width="1.8"/>
<line x1="470.40" y1="1223.90" x2="475.30" y2="1223.90" stroke="#333" stroke-width="1.8"/>
<text x="466.60" y="1063.20" font-size="16.9" fill="#4d4d4d" text-anchor="end" font-weight="normal">0.1</text>
<text x="466.60" y="1146.40" font-size="16.9" fill="#4d4d4d" text-anchor="end" font-weight="normal">0.0</text>
<text x="466.60" y="1230.10" font-size="16.9" fill="#4d4d4d" text-anchor="end" font-weight="normal">−0.1</text>
<line x1="474.90" y1="1140.40" x2="683.30" y2="1140.40" stroke="#7f7f7f" stroke-width="3.9"/>
<line x1="530.60" y1="1231.90" x2="530.60" y2="1235.80" stroke="#333" stroke-width="1.8"/>
<line x1="625.20" y1="1231.90" x2="625.20" y2="1235.80" stroke="#333" stroke-width="1.8"/>
<text x="529.50" y="1252.90" font-size="17.8" fill="#4d4d4d" text-anchor="middle" font-weight="normal">Exp 1</text>
<text x="624.60" y="1252.90" font-size="17.8" fill="#4d4d4d" text-anchor="middle" font-weight="normal">Exp 2</text>
<text font-size="24.4" fill="#000" text-anchor="middle" font-weight="normal" transform="translate(416.40 1132.00) rotate(-90)">β−feedback</text>
<path d="M531.30,1100.64 C531.39,1101.52 531.51,1104.15 531.83,1105.90 C532.15,1107.65 532.50,1109.46 533.23,1111.16 C533.96,1112.85 534.40,1114.51 536.21,1116.06 C538.02,1117.61 541.03,1118.84 544.09,1120.44 C547.16,1122.05 551.10,1123.80 554.60,1125.70 C558.11,1127.60 562.20,1129.79 565.12,1131.83 C568.04,1133.87 570.72,1136.56 572.12,1137.96 C573.52,1139.36 573.52,1139.51 573.52,1140.24 C573.52,1140.97 573.52,1141.41 572.12,1142.34 C570.72,1143.27 568.04,1144.44 565.12,1145.84 C562.20,1147.25 557.82,1149.29 554.60,1150.75 C551.39,1152.21 548.18,1153.52 545.84,1154.60 C543.51,1155.68 542.19,1156.21 540.59,1157.23 C538.98,1158.25 537.46,1159.42 536.21,1160.74 C534.95,1162.05 533.79,1163.51 533.06,1165.12 C532.33,1166.72 532.12,1168.62 531.83,1170.37 C531.54,1172.12 531.39,1174.75 531.30,1175.63 Z" fill="rgba(106,61,154,0.6)" stroke="#2b2b2b" stroke-width="1.1"/>
<path d="M625.95,1065.42 C626.01,1067.23 625.92,1073.36 626.30,1076.28 C626.68,1079.20 627.12,1080.89 628.23,1082.94 C629.34,1084.98 631.15,1086.79 632.96,1088.54 C634.77,1090.29 636.61,1091.84 639.09,1093.45 C641.57,1095.05 645.37,1096.81 647.85,1098.18 C650.33,1099.55 652.52,1100.37 653.98,1101.68 C655.44,1103.00 656.09,1104.60 656.61,1106.06 C657.14,1107.52 656.85,1109.13 657.14,1110.44 C657.43,1111.76 658.45,1112.63 658.36,1113.95 C658.28,1115.26 657.63,1116.87 656.61,1118.33 C655.59,1119.79 654.28,1121.04 652.23,1122.70 C650.19,1124.37 646.83,1126.56 644.35,1128.31 C641.87,1130.06 639.38,1131.67 637.34,1133.22 C635.30,1134.76 633.54,1136.22 632.08,1137.60 C630.62,1138.97 629.46,1140.05 628.58,1141.45 C627.70,1142.85 627.24,1144.31 626.83,1146.01 C626.42,1147.70 626.27,1148.05 626.13,1151.61 C625.98,1155.17 625.98,1164.75 625.95,1167.38 Z" fill="rgba(106,61,154,0.6)" stroke="#2b2b2b" stroke-width="1.1"/>
<path d="M150.88,1178.61 C150.95,1178.88 151.02,1179.76 151.31,1180.22 C151.61,1180.68 151.92,1181.07 152.63,1181.39 C153.33,1181.70 154.45,1181.87 155.55,1182.12 C156.64,1182.36 157.86,1182.58 159.20,1182.85 C160.54,1183.11 162.12,1183.43 163.58,1183.72 C165.04,1184.01 166.25,1184.28 167.96,1184.60 C169.66,1184.91 171.85,1185.26 173.80,1185.62 C175.74,1185.99 177.69,1186.42 179.64,1186.79 C181.58,1187.15 183.82,1187.49 185.47,1187.81 C187.13,1188.13 188.54,1188.39 189.56,1188.69 C190.58,1188.98 191.61,1189.27 191.61,1189.56 C191.61,1189.85 190.58,1190.17 189.56,1190.44 C188.54,1190.71 187.13,1190.90 185.47,1191.17 C183.82,1191.44 181.58,1191.75 179.64,1192.04 C177.69,1192.34 175.74,1192.60 173.80,1192.92 C171.85,1193.24 169.90,1193.60 167.96,1193.94 C166.01,1194.28 163.82,1194.60 162.12,1194.96 C160.41,1195.33 159.08,1195.69 157.74,1196.13 C156.40,1196.57 155.06,1197.10 154.09,1197.59 C153.11,1198.08 152.43,1198.56 151.90,1199.05 C151.36,1199.54 151.05,1200.27 150.88,1200.51 Z" fill="rgb(252,187,122)" stroke="#2b2b2b" stroke-width="1.1"/>
<path d="M240.88,1135.11 C240.88,1136.03 240.80,1139.29 240.88,1140.66 C240.95,1142.02 240.90,1142.43 241.31,1143.28 C241.73,1144.14 242.04,1144.94 243.36,1145.77 C244.67,1146.59 246.76,1147.27 249.20,1148.25 C251.63,1149.22 255.04,1150.51 257.96,1151.61 C260.88,1152.70 264.65,1154.01 266.72,1154.82 C268.78,1155.62 270.36,1155.89 270.36,1156.42 C270.36,1156.96 268.78,1157.32 266.72,1158.03 C264.65,1158.73 260.88,1159.76 257.96,1160.66 C255.04,1161.56 251.51,1162.58 249.20,1163.43 C246.89,1164.28 245.30,1165.06 244.09,1165.77 C242.87,1166.47 242.38,1166.98 241.90,1167.66 C241.41,1168.35 241.34,1169.12 241.17,1169.85 C241.00,1170.58 240.92,1171.68 240.88,1172.04 Z" fill="rgb(252,187,122)" stroke="#2b2b2b" stroke-width="1.1"/>
<line x1="150.90" y1="1178.40" x2="150.90" y2="1200.80" stroke="#2b2b2b" stroke-width="1.3"/>
<line x1="240.90" y1="1135.00" x2="240.90" y2="1172.20" stroke="#2b2b2b" stroke-width="1.3"/>
</svg>
</body></html>
